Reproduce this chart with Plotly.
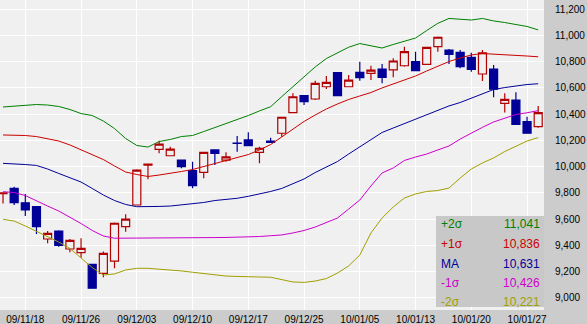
import plotly.graph_objects as go

dates = ["09/11/16","09/11/17","09/11/18","09/11/19","09/11/20","09/11/24","09/11/25","09/11/26","09/11/27","09/11/30",
         "09/12/01","09/12/02","09/12/03","09/12/04","09/12/07","09/12/08","09/12/09","09/12/10","09/12/11","09/12/14",
         "09/12/15","09/12/16","09/12/17","09/12/18","09/12/21","09/12/22","09/12/24","09/12/25","09/12/28","09/12/29",
         "09/12/30","10/01/04","10/01/05","10/01/06","10/01/07","10/01/08","10/01/12","10/01/13","10/01/14","10/01/15",
         "10/01/18","10/01/19","10/01/20","10/01/21","10/01/22","10/01/25","10/01/26","10/01/27","10/01/28"]

open_ = [9795, 9835, 9725, 9695, 9449, 9510, 9373, 9345, 9256, 9188,
         9281, 9543, 9708, 10012, 10132, 10083, 10050, 9969, 9957, 10127,
         10050, 10180, 10203, 10109, 10195, 10254, 10411, 10540, 10515, 10608,
         10715, 10608, 10718, 10710, 10743, 10736, 10768, 10799, 10779, 10913,
         10888, 10870, 10832, 10705, 10743, 10482, 10507, 10342, 10304]
high = [9805, 9847, 9791, 9700, 9510, 9515, 9449, 9454, 9260, 9353,
        9575, 9637, 9980, 10022, 10197, 10152, 10052, 10038, 10112, 10130,
        10109, 10233, 10262, 10152, 10220, 10380, 10558, 10545, 10654, 10690,
        10720, 10697, 10799, 10768, 10781, 10825, 10913, 10875, 10912, 10990,
        10896, 10888, 10867, 10888, 10774, 10558, 10566, 10380, 10462]
low = [9720, 9708, 9624, 9487, 9416, 9390, 9348, 9307, 9070, 9157,
       9226, 9505, 9705, 9903, 10101, 10080, 9987, 9835, 9911, 10012,
       10037, 10114, 10158, 10025, 10183, 10228, 10408, 10469, 10507, 10591,
       10537, 10604, 10654, 10659, 10634, 10680, 10761, 10728, 10776, 10875,
       10781, 10748, 10723, 10652, 10528, 10413, 10320, 10250, 10296]
close = [9800, 9725, 9670, 9543, 9492, 9401, 9439, 9378, 9074, 9339,
         9569, 9601, 9974, 10020, 10172, 10134, 9999, 9855, 10109, 10101,
         10075, 10176, 10160, 10140, 10185, 10376, 10532, 10494, 10634, 10642,
         10540, 10659, 10677, 10735, 10680, 10804, 10875, 10730, 10908, 10985,
         10855, 10761, 10741, 10867, 10589, 10512, 10322, 10254, 10411]

upper2 = [10454, 10462, 10469, 10473, 10469, 10458, 10435, 10404, 10389, 10347,
          10290, 10214, 10161, 10149, 10191, 10207, 10229, 10237, 10267, 10298,
          10325, 10355, 10389, 10424, 10456, 10533, 10609, 10688, 10759, 10823,
          10865, 10909, 10937, 10918, 10903, 10930, 10953, 10979, 11036, 11091,
          11128, 11124, 11116, 11128, 11109, 11097, 11082, 11067, 11041]
upper1 = [10241, 10241, 10237, 10229, 10214, 10195, 10165, 10127, 10089, 10054,
          10005, 9959, 9940, 9925, 9936, 9952, 9963, 9978, 10001, 10024,
          10043, 10066, 10092, 10127, 10168, 10226, 10286, 10344, 10393, 10439,
          10477, 10511, 10538, 10564, 10599, 10629, 10659, 10690, 10728, 10766,
          10800, 10827, 10850, 10861, 10857, 10854, 10850, 10842, 10836]
ma = [10025, 10022, 10016, 10009, 9982, 9948, 9913, 9883, 9834, 9784,
      9742, 9712, 9695, 9694, 9697, 9700, 9708, 9716, 9727, 9742,
      9751, 9759, 9774, 9792, 9811, 9834, 9868, 9906, 9955, 9997,
      10039, 10096, 10150, 10207, 10260, 10294, 10328, 10360, 10393, 10427,
      10462, 10488, 10522, 10557, 10587, 10602, 10614, 10625, 10631]
lower1 = [9809, 9803, 9780, 9738, 9700, 9662, 9617, 9567, 9514, 9472,
          9455, 9455, 9455, 9455, 9455, 9456, 9457, 9457, 9458, 9460,
          9461, 9462, 9464, 9468, 9474, 9480, 9495, 9514, 9540, 9575,
          9609, 9677, 9746, 9853, 9952, 9990, 10047, 10073, 10096, 10127,
          10157, 10210, 10256, 10299, 10340, 10370, 10397, 10410, 10426]
lower2 = [9599, 9586, 9548, 9506, 9464, 9426, 9377, 9304, 9232, 9175,
          9183, 9213, 9226, 9226, 9221, 9213, 9206, 9196, 9186, 9175,
          9167, 9164, 9160, 9160, 9158, 9141, 9122, 9119, 9129, 9148,
          9190, 9244, 9327, 9495, 9609, 9693, 9761, 9792, 9811, 9818,
          9837, 9913, 9982, 10028, 10066, 10115, 10157, 10195, 10221]

x_ticks = ["09/11/18", "09/11/26", "09/12/03", "09/12/10", "09/12/17",
           "09/12/25", "10/01/05", "10/01/13", "10/01/20", "10/01/27"]
y_ticks = [9000, 9200, 9400, 9600, 9800, 10000, 10200, 10400, 10600, 10800, 11000, 11200]

legend_labels = ["+2σ", "+1σ", "MA", "-1σ", "-2σ"]
legend_values = [upper2[-1], upper1[-1], ma[-1], lower1[-1], lower2[-1]]
band_colors = ["#008000", "#cc0000", "#000099", "#cc00cc", "#a0a000"]
bands = [upper2, upper1, ma, lower1, lower2]

UP = "#b00000"
DOWN = "#000099"
FONT = "Liberation Sans, Arial, sans-serif"

fig = go.Figure()
for vals, col in zip(bands, band_colors):
    fig.add_trace(go.Scatter(x=dates, y=vals, mode="lines",
                             line=dict(color=col, width=1), hoverinfo="skip",
                             showlegend=False))

fig.add_trace(go.Candlestick(
    x=dates, open=open_, high=high, low=low, close=close,
    increasing=dict(line=dict(color=UP, width=1.2), fillcolor="#f0f0f0"),
    decreasing=dict(line=dict(color=DOWN, width=1.2), fillcolor=DOWN),
    whiskerwidth=0, showlegend=False, hoverinfo="skip"))

# legend panel
fig.add_shape(type="rect", xref="paper", yref="paper",
              x0=436/544, x1=1, y0=3/310, y1=94/310,
              fillcolor="#c8c8c8", line=dict(width=0), layer="above")
row_px = [224, 244, 263.5, 282.5, 302]
for lab, val, col, py in zip(legend_labels, legend_values, band_colors, row_px):
    yy = (310 - py) / 310
    fig.add_annotation(xref="paper", yref="paper", x=439/544, y=yy, text=lab,
                       showarrow=False, xanchor="left", yanchor="middle",
                       font=dict(family=FONT, size=12, color=col))
    fig.add_annotation(xref="paper", yref="paper", x=542/544, y=yy, text=f"{val:,}",
                       showarrow=False, xanchor="right", yanchor="middle",
                       font=dict(family=FONT, size=12, color=col))

fig.update_layout(
    width=587, height=324,
    margin=dict(l=0, r=43, t=0, b=14, pad=0),
    paper_bgcolor="#cccccc", plot_bgcolor="#f0f0f0",
    boxgap=0.28, boxgroupgap=0,
    hovermode=False,
    xaxis=dict(type="category", range=[-0.27, 48.52],
               tickvals=x_ticks, ticktext=x_ticks,
               showgrid=True, gridcolor="#ffffff", gridwidth=1,
               ticks="", showline=False, zeroline=False,
               rangeslider=dict(visible=False), automargin=False,
               tickfont=dict(family=FONT, size=10, color="#000000"),
               ticklabelstandoff=2),
    yaxis=dict(side="right", range=[8908.6, 11268.5],
               tickvals=y_ticks, tickformat=",d",
               showgrid=True, gridcolor="#ffffff", gridwidth=1,
               ticks="", showline=False, zeroline=False, automargin=False,
               tickfont=dict(family=FONT, size=10, color="#000000"),
               ticklabelstandoff=10),
)

fig.write_html("out.html")
